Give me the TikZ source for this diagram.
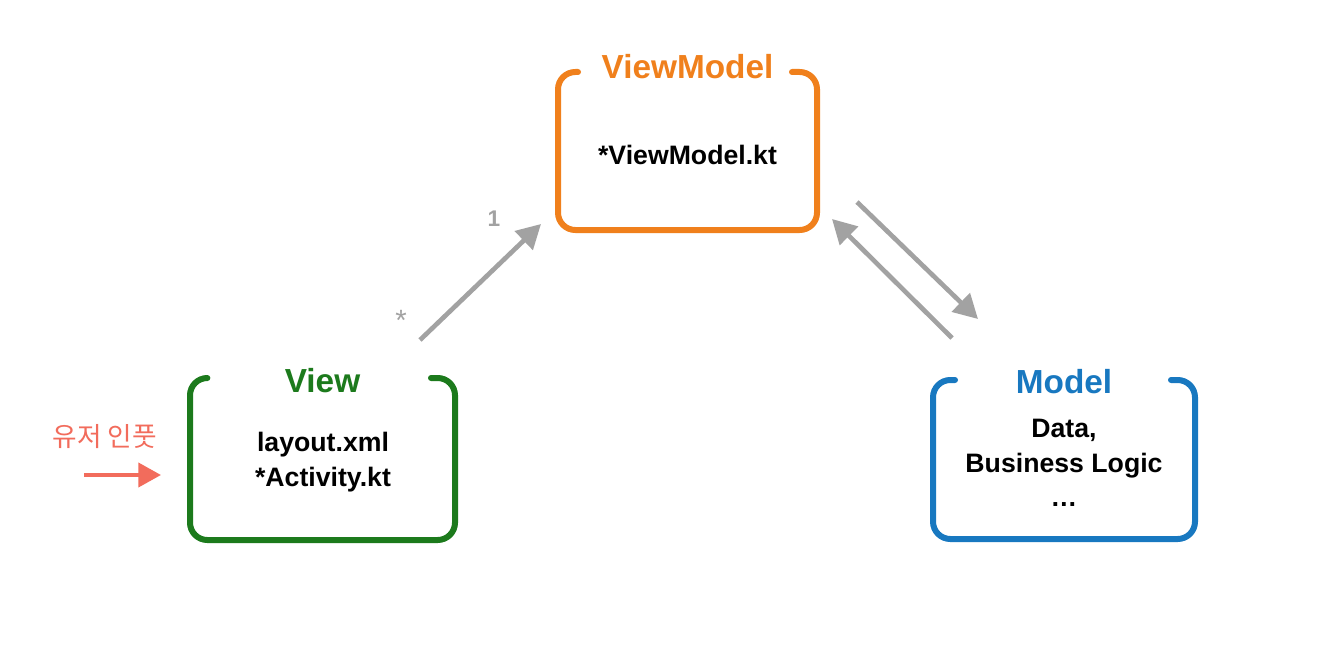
\documentclass[tikz,border=0pt]{standalone}
\usepackage{fontspec}
\setmainfont{Liberation Sans}
\newfontfamily\krfont{Noto Sans CJK KR}
\usetikzlibrary{arrows.meta,calc}

\definecolor{vmOrange}{RGB}{240,128,28}
\definecolor{viewGreen}{RGB}{28,122,28}
\definecolor{modelBlue}{RGB}{24,120,192}
\definecolor{flowGray}{RGB}{162,162,162}
\definecolor{inputRed}{RGB}{242,108,92}

\tikzset{every picture/.style={line width=0.75pt}}
\tikzset{
  layerbox/.style={inner sep=0pt, outer sep=0pt, minimum width=#1},
  crayon/.style={line width=4.5pt, line cap=round, line join=round, rounded corners=13pt},
  title/.style={font=\fontsize{25}{30}\selectfont\bfseries},
  body/.style={font=\fontsize{20}{26}\selectfont\bfseries, align=center},
  mult/.style={text=flowGray, font=\fontsize{17}{20}\selectfont\bfseries},
  flow/.style={draw=flowGray, line width=3.5pt, -{Triangle[length=18pt,width=19pt]}},
  userflow/.style={draw=inputRed, line width=3pt, -{Triangle[length=17pt,width=18pt]}}
}

\begin{document}
\begin{tikzpicture}[x=0.75pt,y=0.75pt,yscale=-1,xscale=1]
\useasboundingbox[fill=white] (0,0) rectangle (1328,660);

%Shape: Box [id:vm]
\node[layerbox=194.25pt, minimum height=118.5pt] (vm) at (687.5,151) {};
%Shape: Box [id:view]
\node[layerbox=198.75pt, minimum height=121.5pt] (view) at (322.5,459) {};
%Shape: Box [id:model]
\node[layerbox=196.5pt, minimum height=119.25pt] (model) at (1064,459.5) {};

%Shape: Open Rounded Rectangle [id:vm]
\draw[crayon, vmOrange] ($(vm.north west)+(20,0)$) -- (vm.north west) -- (vm.south west) -- (vm.south east) -- (vm.north east) -- ($(vm.north east)+(-25,0)$);
%Shape: Open Rounded Rectangle [id:view]
\draw[crayon, viewGreen] ($(view.north west)+(16,0)$) -- (view.north west) -- (view.south west) -- (view.south east) -- (view.north east) -- ($(view.north east)+(-24,0)$);
%Shape: Open Rounded Rectangle [id:model]
\draw[crayon, modelBlue] ($(model.north west)+(22,0)$) -- (model.north west) -- (model.south west) -- (model.south east) -- (model.north east) -- ($(model.north east)+(-24,0)$);

% Text Node
\node[title, text=vmOrange] (vmtitle) at ($(vm.north)+(0,-5)$) {ViewModel};
% Text Node
\node[title, text=viewGreen] (viewtitle) at ($(view.north)+(0,3)$) {View};
% Text Node
\node[title, text=modelBlue] (modeltitle) at ($(model.north)+(0,2)$) {Model};

% Text Node
\node[body] (vmbody) at (687.5,155) {*ViewModel.kt};
% Text Node
\node[body] (viewbody) at (323,462) {layout.xml\\*Activity.kt};
% Text Node
\node[body] (modelbody) at (1064,463) {Data,\\Business Logic\\\dots};

%Straight Lines [id:view-vm]
\draw[flow] ($(view.north east)+(-35,-38)$) -- ($(vm.south west)+(-17,-6)$);
%Straight Lines [id:vm-model]
\draw[flow] ($(vm.south east)+(40,-28)$) -- ($(model.north west)+(45,-61)$);
%Straight Lines [id:model-vm]
\draw[flow] ($(model.north west)+(19,-42)$) -- ($(vm.south east)+(15,-11)$);

% Text Node
\node[mult] (one) at (494,219) {1};
% Text Node
\node[mult, font=\fontsize{22}{24}\selectfont] (many) at (401,320) {*};

% Text Node
\node[text=inputRed, font=\krfont\fontsize{20}{24}\selectfont] (input) at (105,437) {유저 인풋};
%Straight Lines [id:input-view]
\draw[userflow] ($(view.west)+(-106,16)$) -- ($(view.west)+(-29,16)$);

\end{tikzpicture}
\end{document}
